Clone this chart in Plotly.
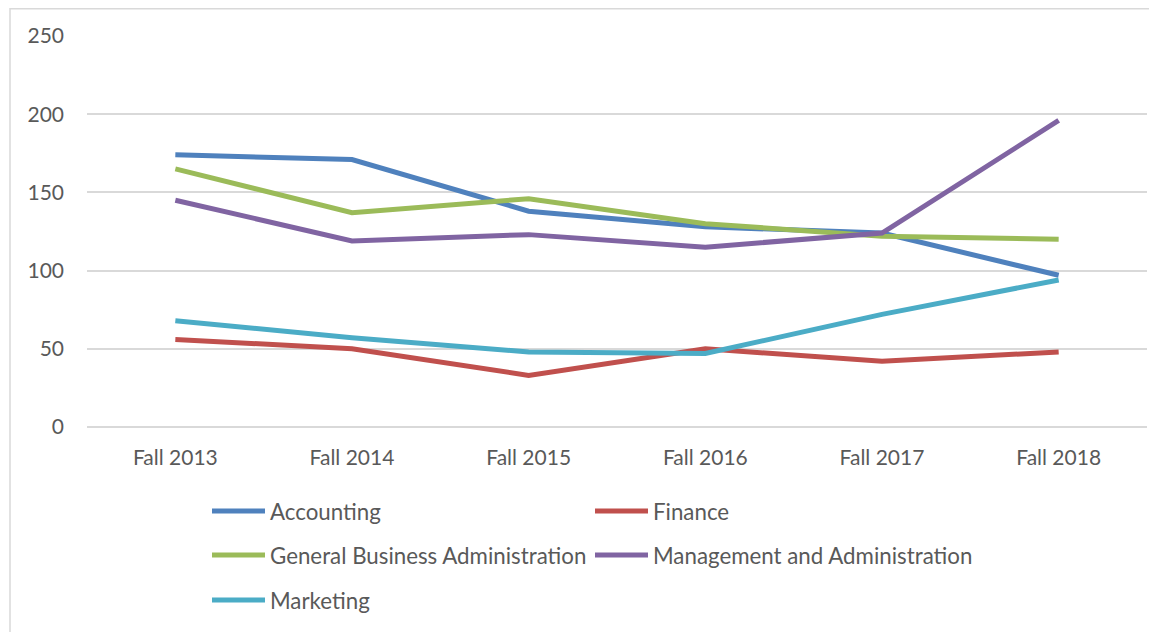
import plotly.graph_objects as go

categories = ["Fall 2013", "Fall 2014", "Fall 2015", "Fall 2016", "Fall 2017", "Fall 2018"]
accounting = [174, 171, 138, 128, 124, 97]
finance = [56, 50, 33, 50, 42, 48]
general_business = [165, 137, 146, 130, 122, 120]
management = [145, 119, 123, 115, 124, 196]
marketing = [68, 57, 48, 47, 72, 94]
y_ticks = [0, 50, 100, 150, 200, 250]

series = [
    ("Accounting", accounting, "#4F81BD", "legend"),
    ("Finance", finance, "#C0504D", "legend"),
    ("General Business Administration", general_business, "#9BBB59", "legend2"),
    ("Management and Administration", management, "#8064A2", "legend2"),
    ("Marketing", marketing, "#4BACC6", "legend3"),
]

FONT = "Lato, Open Sans, sans-serif"
TXT = "#595959"

fig = go.Figure()
for name, vals, color, leg in series:
    fig.add_trace(go.Scatter(
        x=categories, y=vals, name=name, mode="lines",
        line=dict(color=color, width=5), legend=leg,
    ))

# figure is placed at (8,8) on the page by the body margin
W, H = 1149, 624
L, R, T, B = 79, 10, 28, 205
pw = W - L - R
ph = H - T - B


def leg(row_center_page):
    yfig = row_center_page - 8
    return dict(
        orientation="h", x=(207 - 8 - L) / pw, y=(H - B - yfig) / ph,
        xanchor="left", yanchor="middle",
        entrywidth=315, entrywidthmode="pixels",
        font=dict(family=FONT, size=22.3, color=TXT),
        itemwidth=53, bgcolor="rgba(0,0,0,0)",
    )


fig.update_layout(
    width=W, height=H,
    margin=dict(l=L, r=R, t=T, b=B),
    paper_bgcolor="white", plot_bgcolor="white",
    font=dict(family=FONT, size=21, color=TXT),
    showlegend=True,
    legend=leg(511),
    legend2=leg(555),
    legend3=leg(600),
    xaxis=dict(
        type="category", range=[-0.5, 5.5], showgrid=False,
        showline=False, ticks="", ticklabelstandoff=16,
        tickfont=dict(family=FONT, size=21, color=TXT),
    ),
    yaxis=dict(
        range=[0, 250], tickvals=y_ticks, showgrid=True, gridcolor="#D9D9D9",
        gridwidth=1.5, zeroline=True, zerolinecolor="#D9D9D9", zerolinewidth=1.5,
        showline=False, ticks="", ticklabelstandoff=22,
        tickfont=dict(family=FONT, size=21, color=TXT),
    ),
    shapes=[dict(
        type="rect", xref="paper", yref="paper",
        x0=(2 - L) / pw, x1=1.05, y0=-0.7, y1=(H - B - 0.75) / ph,
        line=dict(color="#D9D9D9", width=1.5), fillcolor="rgba(0,0,0,0)", layer="below",
    )],
)

fig.write_html("out.html")
